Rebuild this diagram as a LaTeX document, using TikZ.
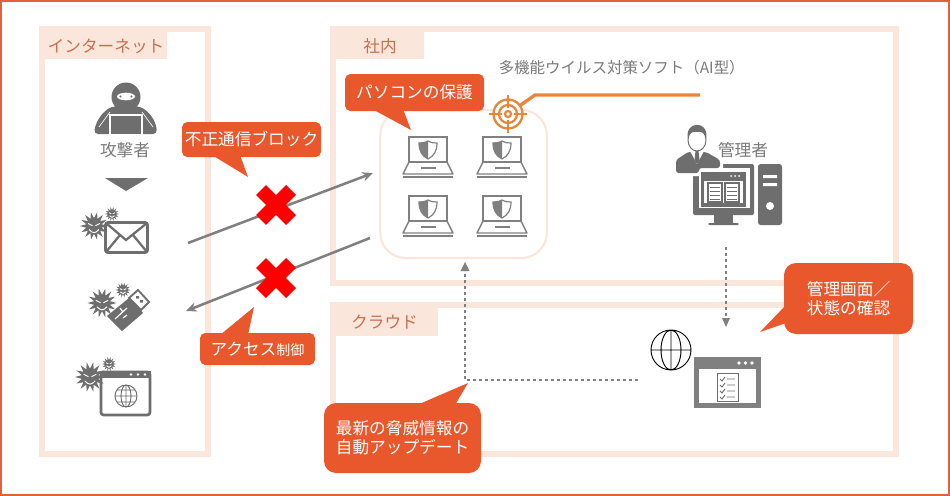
\documentclass[tikz,border=0pt]{standalone}
\usepackage{fontspec}
\setmainfont{Noto Sans CJK JP}
\usetikzlibrary{arrows.meta}
\definecolor{framecol}{HTML}{E2603A}
\definecolor{panelcol}{HTML}{FBE6DB}
\definecolor{calloutcol}{HTML}{E8582C}
\definecolor{tabtext}{HTML}{C96F50}
\definecolor{icongray}{HTML}{6E6E6E}
\definecolor{linegray}{HTML}{808080}
\definecolor{labelgray}{HTML}{7A7A7A}
\definecolor{targetcol}{HTML}{E8863C}
\newcommand{\fpx}[2]{\fontsize{#1}{#2}\selectfont}
\tikzset{
  x=0.75pt, y=-0.75pt,
  panel/.style={draw=panelcol, line width=4.5pt, fill=white},
  tabfill/.style={fill=panelcol},
  tablabel/.style={text=tabtext, font=\fpx{12.5}{15}, inner sep=0pt},
  callout/.style={fill=calloutcol, text=white, font=\fpx{12.5}{14.5}, inner sep=0pt, align=center, rounded corners=#1},
  callout/.default=4pt,
  graytext/.style={text=labelgray, font=\fpx{12.5}{15}, inner sep=0pt},
  feed/.style={draw=linegray, line width=1.9pt, -{Stealth[length=8pt,width=7pt]}},
  dotline/.style={draw=linegray, line width=2.2pt, dash pattern=on 2pt off 2.5pt},
  cross/.style={draw=red, line width=10.5pt},
}
% spiked malware badge with a small face
\newcommand{\spiky}[3]{%
  \fill[icongray] plot[samples=29, domain=0:360] ({#1+#3*(0.78+0.22*cos(14*\x))*cos(\x)},{#2+#3*(0.78+0.22*cos(14*\x))*sin(\x)}) -- cycle;
  \draw[white, line width=0.7pt] ({#1-#3*0.42},{#2-#3*0.18}) -- ({#1-#3*0.1},{#2-#3*0.02})
    ({#1+#3*0.42},{#2-#3*0.18}) -- ({#1+#3*0.1},{#2-#3*0.02});
  \draw[white, line width=0.7pt] ({#1-#3*0.35},{#2+#3*0.25}) .. controls ({#1-#3*0.1},{#2+#3*0.55}) and ({#1+#3*0.1},{#2+#3*0.55}) .. ({#1+#3*0.35},{#2+#3*0.25});
}
% laptop with a half shaded shield; #1,#2 = top left corner of the screen
\newcommand{\laptop}[2]{%
  \begin{scope}[shift={(#1,#2)}]
    \draw[linegray, line width=1.1pt] (0,0) rectangle (38,25);
    \draw[linegray, line width=1.1pt, line join=round] (0,25) -- (-6,37) -- (44,37) -- (38,25);
    \draw[linegray, line width=1.6pt] (-6,40) -- (44,40);
    \draw[linegray, line width=1.1pt] (12,31) -- (27,31);
    \draw[linegray, line width=0.9pt, fill=white] (19,4) .. controls (23,6) and (25,6) .. (28,6) .. controls (28,14) and (25,19) .. (19,22) .. controls (13,19) and (10,14) .. (10,6) .. controls (13,6) and (15,6) .. (19,4) -- cycle;
    \fill[linegray] (19,4) .. controls (15,6) and (13,6) .. (10,6) .. controls (10,14) and (13,19) .. (19,22) -- cycle;
  \end{scope}
}
\begin{document}
\begin{tikzpicture}
\useasboundingbox (0,0) rectangle (950,496);
\fill[white] (0,0) rectangle (950,496);
\draw[framecol, line width=1.6pt] (1,1) rectangle (949,495);

% zones
\draw[panel] (42,29) rectangle (208,454);
\draw[panel] (333,29) rectangle (896,283);
\draw[panel] (333,305) rectangle (896,454);
\fill[tabfill] (45,32) rectangle (167,59);
\fill[tabfill] (336,32) rectangle (424,59);
\fill[tabfill] (336,308) rectangle (438,336);
\node[tablabel] (tabnet) at (106,46) {インターネット};
\node[tablabel] (taboffice) at (380,46) {社内};
\node[tablabel] (tabcloud) at (384.5,322) {クラウド};

% attacker
\fill[icongray, rounded corners=3pt] (94,134) .. controls (96,120) and (104,110) .. (115,106) -- (137,106) .. controls (148,110) and (156,120) .. (157,134) -- cycle;
\fill[icongray] (126,97) circle (14.5);
\fill[white] (126,96.5) ellipse (9 and 3.8);
\fill[icongray] (120.5,96.5) circle (1.2) (131.5,96.5) circle (1.2);
\draw[white, line width=0.5pt] (110,112) -- (99,127) (142,112) -- (153,127);
\draw[white, line width=0.8pt, fill=icongray] (110,115) rectangle (142,135);
\node[graytext] (attacker) at (125,150) {攻撃者};
\fill[icongray] (105,178) -- (148,178) -- (126,191) -- cycle;

% mail threat
\draw[icongray, line width=2.2pt, fill=white, rounded corners=2pt] (105.5,222.5) rectangle (147.5,252.5);
\draw[icongray, line width=1.7pt] (106,223) -- (126,240) -- (147,223) (106,252) -- (120,235) (147,252) -- (133,235);
\spiky{94}{226}{14}
\spiky{112}{214}{7}
\coordinate (mailout) at (188,243);

% USB threat
\fill[icongray] (122,331) -- (107,316) -- (129,298) -- (143,313) -- cycle;
\draw[icongray, line width=1.4pt, fill=white] (129,298) -- (138,290) -- (149,302) -- (141,310) -- cycle;
\fill[icongray] (136,296) rectangle (139,298.5) (140,300) rectangle (143,302.5);
\draw[white, line width=0.9pt] (115,319) -- (127,308) (120,308) -- (123,312) (123,318) -- (127,315);
\spiky{102}{303}{14.5}
\spiky{123}{290}{7.5}
\coordinate (usbin) at (186,311);

% web threat
\draw[icongray, line width=2pt, fill=white, rounded corners=2pt] (101,372) rectangle (150,415);
\fill[icongray] (100,371) rectangle (151,378);
\fill[white] (131,374.5) circle (1.3) (138,374.5) circle (1.3) (145,374.5) circle (1.3);
\draw[icongray, line width=0.7pt] (126,396) circle (11) (126,396) ellipse (5 and 11) (115,396) -- (137,396) (117,390) -- (135,390) (117,402) -- (135,402) (126,385) -- (126,407);
\spiky{90}{377}{15}
\spiky{109}{364}{7}

% protected machines
\node[draw=panelcol, line width=1.6pt, fill=white, rounded corners=19pt, minimum width=125pt, minimum height=111pt, inner sep=0pt] (pcgroup) at (463.5,184) {};
\laptop{409}{137}
\laptop{483}{137}
\laptop{409}{196}
\laptop{483}{196}

% blocked traffic
\coordinate (pcin) at (373,173);
\coordinate (pcout) at (370,238);
\draw[feed] (mailout) -- (pcin);
\draw[feed] (pcout) -- (usbin);
\coordinate (xa) at (276,205);
\coordinate (xb) at (276,278);
\draw[cross] ([shift={(-15,-15)}]xa) -- ([shift={(15,15)}]xa) ([shift={(-15,15)}]xa) -- ([shift={(15,-15)}]xa);
\draw[cross] ([shift={(-15,-15)}]xb) -- ([shift={(15,15)}]xb) ([shift={(-15,15)}]xb) -- ([shift={(15,-15)}]xb);

% antivirus target and its leader
\coordinate (target) at (508,114);
\coordinate (leaderend) at (700,95);
\coordinate (leaderbend) at (535,95);
\draw[targetcol, line width=2.5pt] (leaderend) -- (leaderbend) -- (target);
\fill[white] (target) circle (15);
\draw[targetcol, line width=1.7pt] (target) circle (14.5) (target) circle (9) (target) circle (3);
\draw[targetcol, line width=1.5pt] ([yshift=-19*0.75pt]target) -- ([yshift=-6*0.75pt]target) ([yshift=19*0.75pt]target) -- ([yshift=6*0.75pt]target)
  ([xshift=-19*0.75pt]target) -- ([xshift=-6*0.75pt]target) ([xshift=19*0.75pt]target) -- ([xshift=6*0.75pt]target);
\node[graytext, font=\fpx{11.6}{14}, anchor=west] (avname) at (498.5,68) {多機能ウイルス対策ソフト（AI型）};

% administrator workstation
\fill[icongray, rounded corners=1.5pt] (693,164) rectangle (754,215);
\fill[icongray] (714,215) rectangle (733,223);
\fill[icongray, rounded corners=1pt] (708,223) rectangle (739,225);
\fill[white] (699,168) rectangle (750,208);
\fill[icongray] (701,172) rectangle (746,207);
\fill[white] (731,176) circle (1) (735,176) circle (1) (739,176) circle (1);
\fill[white] (704,181) rectangle (743,203);
\draw[icongray, line width=0.8pt] (708,183) rectangle (722,202) (725,183) rectangle (739,202);
\draw[icongray, line width=0.5pt] (710,187) -- (720,187) (710,191) -- (720,191) (710,195) -- (720,195) (710,199) -- (720,199)
  (727,187) -- (737,187) (727,191) -- (737,191) (727,195) -- (737,195) (727,199) -- (737,199);
\fill[icongray, rounded corners=2pt] (758,164) rectangle (782,225);
\fill[white] (763,175) rectangle (777,178) (763,183) rectangle (777,186);
\fill[white] (770,206) circle (4);
% administrator figure
\fill[white] (672,150) rectangle (723,170) (672,170) rectangle (699,176);
\fill[icongray, rounded corners=2pt] (676,173) -- (676,160) -- (688,152) -- (706,152) -- (720,160) -- (720,168) -- (699,168) -- (699,173) -- cycle;
\fill[white] (690,151) -- (704,151) -- (697,164) -- cycle;
\fill[icongray] (695.5,151) -- (698.5,151) -- (699.5,160) -- (697,164) -- (694.5,160) -- cycle;
\draw[icongray, line width=0.7pt, fill=white] (697,140) ellipse (9 and 11);
\fill[icongray] (688,139) .. controls (684,120) and (710,120) .. (706,139) .. controls (705,133) and (702,131) .. (697,132) .. controls (692,131) and (689,133) .. (688,139) -- cycle;
\node[graytext] (adminlabel) at (743,150) {管理者};

% cloud console
\draw[black, line width=0.7pt] (671,350) circle (20) (671,350) ellipse (10 and 20) (651,350) -- (691,350) (671,330) -- (671,370);
\node[fill=linegray, minimum width=50pt, minimum height=38pt, inner sep=0pt] (console) at (727.5,382.5) {};
\fill[white] (699,369) rectangle (756,403);
\fill[white] (739,363) circle (1.8) (745.5,363) circle (1.8) (752,363) circle (1.8);
\draw[icongray, line width=0.6pt] (717,373) rectangle (738,401);
\draw[icongray, line width=0.7pt] (720,379) -- (722,381) -- (725,377) (727,379) -- (735,379)
  (720,385) -- (722,387) -- (725,383) (727,385) -- (735,385)
  (720,391) -- (722,393) -- (725,389) (727,391) -- (735,391)
  (720,397) -- (722,399) -- (725,395) (727,397) -- (735,397);

% dotted links
\coordinate (adminout) at (726,247);
\coordinate (consolein) at (726,318);
\coordinate (consoletip) at (726,327);
\draw[dotline] (adminout) -- (consolein);
\fill[linegray] (722,318) -- (730,318) -- (consoletip) -- cycle;
\coordinate (updstart) at (638,380);
\coordinate (updbend) at (465,380);
\coordinate (updend) at (465,271);
\coordinate (updtip) at (465,262);
\draw[dotline] (updstart) -- (updbend) -- (updend);
\fill[linegray] (460.5,271) -- (469.5,271) -- (updtip) -- cycle;

% callouts
\fill[calloutcol] (248,177) -- (212,155) -- (240,155) -- cycle;
\node[callout, minimum width=104.25pt, minimum height=26.25pt] (cblock) at (251.5,139.5) {不正通信ブロック};
\fill[calloutcol] (254,307) -- (220,335) -- (248,335) -- cycle;
\node[callout, minimum width=86.25pt, minimum height=24pt] (caccess) at (257.5,349) {アクセス{\fpx{10.5}{12}制御}};
\fill[calloutcol] (411,130) -- (372,109) -- (403,109) -- cycle;
\node[callout, minimum width=104.25pt, minimum height=27.75pt] (cpc) at (414.5,92.5) {パソコンの保護};
\fill[calloutcol] (760,332) -- (786,305) -- (786,323) -- cycle;
\node[callout=9pt, minimum width=96.75pt, minimum height=53.25pt] (cview) at (848.5,298.5) {管理画面／\\状態の確認};
\fill[calloutcol] (468,383) -- (417,405) -- (455,405) -- cycle;
\node[callout=9pt, minimum width=117.75pt, minimum height=52.5pt] (cupdate) at (402.5,438) {最新の脅威情報の\\自動アップデート};
\end{tikzpicture}
\end{document}
